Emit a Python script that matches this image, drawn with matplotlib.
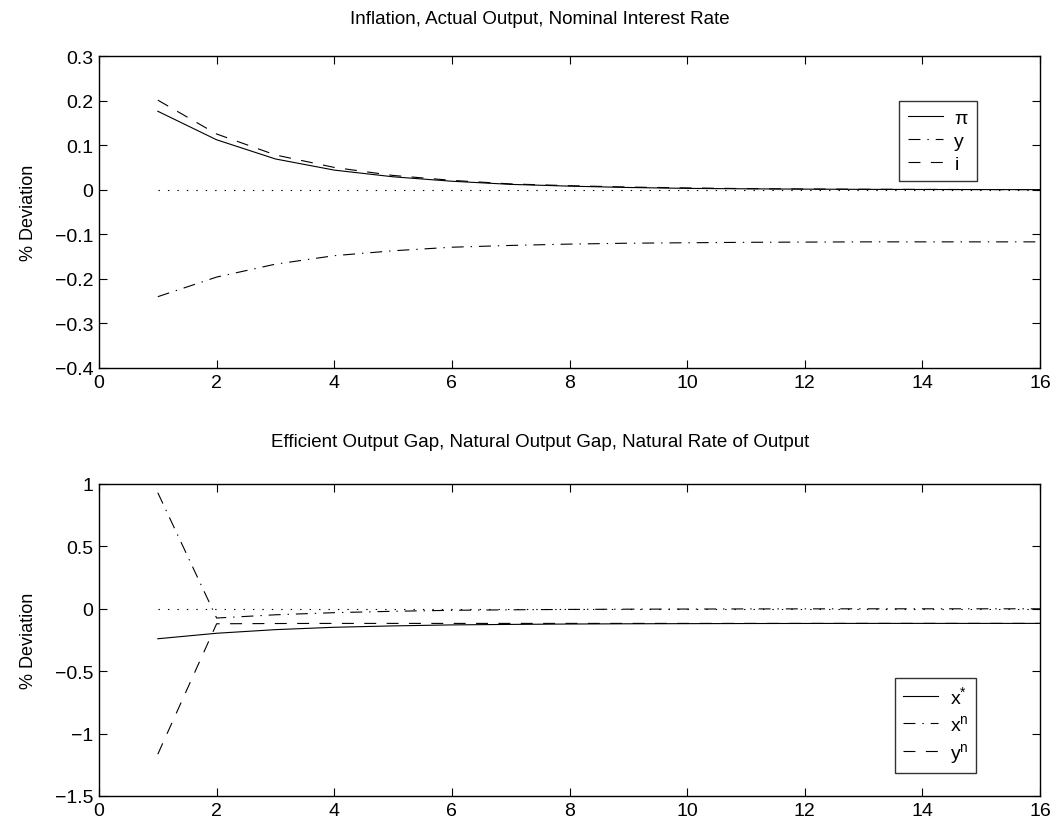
import matplotlib
matplotlib.use("Agg")
import matplotlib.pyplot as plt
import numpy as np

plt.rcParams['font.family'] = ['Liberation Sans', 'DejaVu Sans']
plt.rcParams['mathtext.fontset'] = 'custom'
plt.rcParams['mathtext.rm'] = 'Liberation Sans'
plt.rcParams['mathtext.it'] = 'Liberation Sans'
plt.rcParams['lines.scale_dashes'] = False

periods = list(range(1, 17))

# Top panel
inflation = [0.176, 0.112, 0.069, 0.044, 0.029, 0.019, 0.012, 0.008, 0.005, 0.003,
             0.002, 0.0013, 0.0008, 0.0005, 0.0003, 0.0002]
output = [-0.240, -0.196, -0.167, -0.148, -0.137, -0.129, -0.125, -0.122, -0.120, -0.119,
          -0.118, -0.1175, -0.117, -0.117, -0.117, -0.117]
interest = [0.201, 0.125, 0.078, 0.050, 0.032, 0.021, 0.013, 0.009, 0.006, 0.004,
            0.0025, 0.0016, 0.001, 0.0006, 0.0004, 0.0002]

# Bottom panel
eff_gap = [-0.240, -0.196, -0.167, -0.148, -0.137, -0.129, -0.125, -0.122, -0.120, -0.119,
           -0.118, -0.1175, -0.117, -0.117, -0.117, -0.117]
nat_gap = [0.930, -0.074, -0.048, -0.031, -0.020, -0.012, -0.008, -0.005, -0.003, -0.002,
           -0.001, -0.0005, 0.0, 0.0, 0.0, 0.0]
nat_output = [-1.165, -0.120, -0.118, -0.117, -0.117, -0.117, -0.117, -0.117, -0.117, -0.117,
              -0.117, -0.117, -0.117, -0.117, -0.117, -0.117]
zero_line = [0.0] * 16

top_labels = [r'$\pi$', 'y', 'i']
bottom_labels = [r'x$^{*}$', r'x$^{\mathrm{n}}$', r'y$^{\mathrm{n}}$']

DASH = (0, (8.6, 7.5))
DASHDOT = (0, (8.6, 5.0, 1.0, 5.0))
DOT = (0, (1.0, 5.8))

fig = plt.figure(figsize=(10.55, 8.29), dpi=100)
W, H = 1055, 829
ax1 = fig.add_axes([99/W, 1 - 369/H, (1040 - 99)/W, (369 - 57)/H])
ax2 = fig.add_axes([99/W, 1 - 797/H, (1040 - 99)/W, (797 - 485)/H])
title_x = (540 - 99) / 941

lw = 0.8
ax1.plot(periods, inflation, linestyle='-', color='black', lw=lw, label=top_labels[0])
ax1.plot(periods, output, linestyle=DASHDOT, color='black', lw=lw, label=top_labels[1])
ax1.plot(periods, interest, linestyle=DASH, color='black', lw=lw, label=top_labels[2])
ax1.plot(periods, zero_line, linestyle=DOT, color='black', lw=lw)
ax1.set_xlim(0, 16)
ax1.set_ylim(-0.4, 0.3)
ax1.set_xticks(np.arange(0, 17, 2))
ax1.set_yticks(np.arange(-0.4, 0.31, 0.1))
ax1.set_yticklabels(['\u22120.4', '\u22120.3', '\u22120.2', '\u22120.1', '0', '0.1', '0.2', '0.3'])
ax1.set_title('Inflation, Actual Output, Nominal Interest Rate', fontsize=13.5, pad=24, x=title_x)
ax1.set_ylabel('% Deviation', fontsize=13, labelpad=13)
leg1 = ax1.legend(loc='upper right', bbox_to_anchor=((977 - 99)/941, 1 - (102 - 57)/312),
                  borderaxespad=0, fontsize=14, frameon=True, fancybox=False, edgecolor='black',
                  handlelength=1.8, borderpad=0.42, labelspacing=0.28, handletextpad=0.6)
leg1.get_frame().set_linewidth(1.0)

ax2.plot(periods, eff_gap, linestyle='-', color='black', lw=lw, label=bottom_labels[0])
ax2.plot(periods, nat_gap, linestyle=DASHDOT, color='black', lw=lw, label=bottom_labels[1])
ax2.plot(periods, nat_output, linestyle=DASH, color='black', lw=lw, label=bottom_labels[2])
ax2.plot(periods, zero_line, linestyle=DOT, color='black', lw=lw)
ax2.set_xlim(0, 16)
ax2.set_ylim(-1.5, 1)
ax2.set_xticks(np.arange(0, 17, 2))
ax2.set_yticks([-1.5, -1, -0.5, 0, 0.5, 1])
ax2.set_yticklabels(['\u22121.5', '\u22121', '\u22120.5', '0', '0.5', '1'])
ax2.set_title('Efficient Output Gap, Natural Output Gap, Natural Rate of Output', fontsize=13.5, pad=27, x=title_x)
ax2.set_ylabel('% Deviation', fontsize=13, labelpad=13)
leg2 = ax2.legend(loc='lower right', bbox_to_anchor=((976 - 99)/941, (797 - 774)/312),
                  borderaxespad=0, fontsize=14, frameon=True, fancybox=False, edgecolor='black',
                  handlelength=1.8, borderpad=0.4, labelspacing=0.36, handletextpad=0.6)
leg2.get_frame().set_linewidth(1.0)

for ax in (ax1, ax2):
    ax.tick_params(direction='in', top=True, right=True, labelsize=14, length=6, width=0.8, pad=4)
    for s in ax.spines.values():
        s.set_linewidth(1.0)

fig.savefig('out.png', dpi=100, facecolor='white')
